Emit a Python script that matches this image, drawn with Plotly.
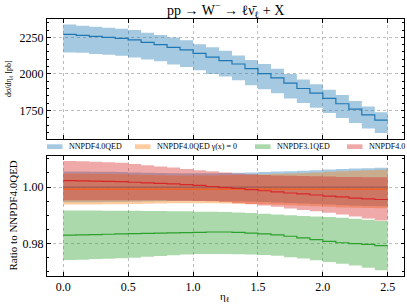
import plotly.graph_objects as go

W, H = 407, 305

ETA_EDGES = [0.0, 0.1, 0.2, 0.3, 0.4, 0.5, 0.6, 0.7, 0.8, 0.9, 1.0, 1.1, 1.2,
             1.3, 1.4, 1.5, 1.6, 1.7, 1.8, 1.9, 2.0, 2.1, 2.2, 2.3, 2.4, 2.5]

# top panel: dsigma/deta [pb] for NNPDF4.0QED
XS_CENTRAL = [2270, 2264, 2257, 2250, 2243, 2232, 2216, 2200, 2182, 2164, 2140, 2115, 2091,
              2068, 2036, 2002, 1973, 1937, 1901, 1869, 1833, 1797, 1761, 1721, 1685]
XS_UPPER = [2338, 2329, 2322, 2315, 2309, 2300, 2282, 2266, 2248, 2230, 2203, 2182, 2159,
            2126, 2095, 2068, 2036, 2000, 1962, 1930, 1892, 1856, 1815, 1779, 1739]
XS_LOWER = [2146, 2144, 2137, 2131, 2124, 2113, 2099, 2086, 2065, 2047, 2025, 2000, 1983,
            1957, 1923, 1896, 1869, 1833, 1802, 1770, 1734, 1700, 1666, 1628, 1597]

# bottom panel: ratios to NNPDF4.0QED
BLUE_C = [1.0] * 25
BLUE_U = [1.0055, 1.0055, 1.0054, 1.0054, 1.0053, 1.0052, 1.0051, 1.0050, 1.0049, 1.0049,
          1.0049, 1.0049, 1.0050, 1.0051, 1.0052, 1.0053, 1.0055, 1.0056, 1.0058, 1.0060,
          1.0062, 1.0064, 1.0066, 1.0067, 1.0068]
BLUE_L = [0.9946, 0.9946, 0.9946, 0.9947, 0.9947, 0.9948, 0.9949, 0.9950, 0.9951, 0.9951,
          0.9951, 0.9951, 0.9950, 0.9949, 0.9948, 0.9947, 0.9945, 0.9944, 0.9942, 0.9940,
          0.9938, 0.9936, 0.9934, 0.9933, 0.9932]

ORANGE_C = [0.9993] * 25
ORANGE_U = [1.0047, 1.0047, 1.0046, 1.0046, 1.0045, 1.0044, 1.0043, 1.0042, 1.0041, 1.0041,
            1.0041, 1.0041, 1.0042, 1.0043, 1.0044, 1.0045, 1.0047, 1.0048, 1.0050, 1.0052,
            1.0054, 1.0056, 1.0058, 1.0060, 1.0061]
ORANGE_L = [0.9938, 0.9938, 0.9938, 0.9939, 0.9939, 0.9940, 0.9941, 0.9942, 0.9943, 0.9943,
            0.9943, 0.9943, 0.9942, 0.9941, 0.9940, 0.9939, 0.9937, 0.9936, 0.9934, 0.9932,
            0.9930, 0.9928, 0.9927, 0.9926, 0.9925]

GREEN_C = [0.9830, 0.9831, 0.9832, 0.9833, 0.9834, 0.9835, 0.9836, 0.9837, 0.9838, 0.9839,
           0.9840, 0.9841, 0.9841, 0.9840, 0.9837, 0.9834, 0.9831, 0.9826, 0.9820, 0.9814,
           0.9808, 0.9803, 0.9800, 0.9797, 0.9793]
GREEN_U = [0.9917, 0.9917, 0.9917, 0.9916, 0.9916, 0.9916, 0.9915, 0.9915, 0.9914, 0.9914,
           0.9913, 0.9913, 0.9912, 0.9910, 0.9908, 0.9906, 0.9903, 0.9900, 0.9898, 0.9896,
           0.9894, 0.9891, 0.9888, 0.9884, 0.9880]
GREEN_L = [0.9742, 0.9743, 0.9745, 0.9746, 0.9748, 0.9750, 0.9753, 0.9756, 0.9759, 0.9761,
           0.9763, 0.9763, 0.9763, 0.9762, 0.9761, 0.9760, 0.9757, 0.9752, 0.9747, 0.9741,
           0.9735, 0.9729, 0.9722, 0.9714, 0.9706]

RED_C = [1.0023, 1.0022, 1.0021, 1.0020, 1.0019, 1.0017, 1.0015, 1.0013, 1.0011, 1.0009,
         1.0006, 1.0002, 0.9998, 0.9995, 0.9991, 0.9987, 0.9983, 0.9979, 0.9976, 0.9972,
         0.9968, 0.9965, 0.9961, 0.9958, 0.9956]
RED_U = [1.0092, 1.0091, 1.0090, 1.0088, 1.0086, 1.0082, 1.0077, 1.0073, 1.0069, 1.0064,
         1.0060, 1.0056, 1.0052, 1.0048, 1.0045, 1.0043, 1.0041, 1.0040, 1.0039, 1.0038,
         1.0037, 1.0036, 1.0036, 1.0035, 1.0035]
RED_L = [0.9953, 0.9953, 0.9953, 0.9953, 0.9953, 0.9953, 0.9953, 0.9953, 0.9952, 0.9952,
         0.9951, 0.9950, 0.9947, 0.9943, 0.9939, 0.9935, 0.9930, 0.9924, 0.9919, 0.9914,
         0.9909, 0.9903, 0.9896, 0.9889, 0.9882]

LABELS = ["NNPDF4.0QED", "NNPDF4.0QED γ(x) = 0", "NNPDF3.1QED", "NNPDF4.0"]
COLORS = ["#1f77b4", "#ff7f0e", "#2ca02c", "#d62728"]
FILLS = ["rgba(31,119,180,0.4)", "rgba(255,127,14,0.4)", "rgba(44,160,44,0.4)", "rgba(214,39,40,0.4)"]

FONT = "Liberation Serif"


def ext(v):
    return list(v) + [v[-1]]


fig = go.Figure()


def add_band(c, u, l, color, fill, xa, ya):
    fig.add_trace(go.Scatter(x=ETA_EDGES, y=ext(l), mode="lines", line=dict(width=0, shape="hv"),
                             showlegend=False, hoverinfo="skip", xaxis=xa, yaxis=ya))
    fig.add_trace(go.Scatter(x=ETA_EDGES, y=ext(u), mode="lines", line=dict(width=0, shape="hv"),
                             fill="tonexty", fillcolor=fill, showlegend=False, hoverinfo="skip",
                             xaxis=xa, yaxis=ya))
    fig.add_trace(go.Scatter(x=ETA_EDGES, y=ext(c), mode="lines", line=dict(width=1.2, shape="hv", color=color),
                             showlegend=False, hoverinfo="skip", xaxis=xa, yaxis=ya))


add_band(XS_CENTRAL, XS_UPPER, XS_LOWER, COLORS[0], FILLS[0], "x", "y")

for (c, u, l), col, fl in zip([(BLUE_C, BLUE_U, BLUE_L), (ORANGE_C, ORANGE_U, ORANGE_L),
                               (GREEN_C, GREEN_U, GREEN_L), (RED_C, RED_U, RED_L)], COLORS, FILLS):
    add_band(c, u, l, col, fl, "x2", "y2")


def px2x(p):
    return p / W


def px2y(p):
    return 1 - p / H


XDOM = [px2x(47), px2x(404)]
axis_common = dict(showline=True, linecolor="black", linewidth=1, mirror="allticks", ticks="inside",
                   ticklen=3.5, tickwidth=0.8, tickcolor="black", showgrid=True, gridcolor="#bdbdbd",
                   griddash="dot", gridwidth=0.7, zeroline=False, automargin=False,
                   tickfont=dict(family=FONT, size=12, color="black"))

fig.update_layout(
    width=W, height=H, margin=dict(l=0, r=0, t=0, b=0),
    paper_bgcolor="white", plot_bgcolor="white", showlegend=False,
    xaxis=dict(domain=XDOM, range=[-0.125, 2.625], tickvals=[0, 0.5, 1.0, 1.5, 2.0, 2.5],
               showticklabels=False, anchor="y", **axis_common),
    yaxis=dict(domain=[px2y(138.5), px2y(19)], range=[1560, 2375], tickvals=[1750, 2000, 2250],
               minor=dict(ticks="inside", ticklen=2, tickwidth=0.6, tickcolor="black", dtick=50,
                          tick0=0, showgrid=False), anchor="x", **axis_common),
    xaxis2=dict(domain=XDOM, range=[-0.125, 2.625], tickvals=[0, 0.5, 1.0, 1.5, 2.0, 2.5],
                ticktext=["0.0", "0.5", "1.0", "1.5", "2.0", "2.5"], anchor="y2", **axis_common),
    yaxis2=dict(domain=[px2y(275.5), px2y(156)], range=[0.9687, 1.0110], tickvals=[0.98, 1.00],
                ticktext=["0.98", "1.00"],
                minor=dict(ticks="inside", ticklen=2, tickwidth=0.6, tickcolor="black", dtick=0.005,
                           tick0=0, showgrid=False), anchor="x2", **axis_common),
)

ann = []
ann.append(dict(text="pp → W<sup>−</sup> → ℓν̄<sub>ℓ</sub> + X", x=px2x(225), y=px2y(10),
                xref="paper", yref="paper", showarrow=False, xanchor="center", yanchor="middle",
                font=dict(family=FONT, size=14, color="black")))
ann.append(dict(text="dσ/dη<sub>ℓ</sub> [pb]", x=px2x(9), y=px2y(79), xref="paper", yref="paper",
                showarrow=False, textangle=-90, xanchor="center", yanchor="middle",
                font=dict(family=FONT, size=8, color="black")))
ann.append(dict(text="Ratio to NNPDF4.0QED", x=px2x(12), y=px2y(215.5), xref="paper", yref="paper",
                showarrow=False, textangle=-90, xanchor="center", yanchor="middle",
                font=dict(family=FONT, size=11, color="black")))
ann.append(dict(text="η<sub>ℓ</sub>", x=px2x(225), y=px2y(297), xref="paper", yref="paper",
                showarrow=False, xanchor="center", yanchor="middle",
                font=dict(family=FONT, size=11, color="black")))

shapes = []
patch_x = [47, 135, 255, 347]
for px, lab, col, fl in zip(patch_x, LABELS, COLORS, FILLS):
    shapes.append(dict(type="rect", xref="paper", yref="paper", x0=px2x(px), x1=px2x(px + 15.5),
                       y0=px2y(149), y1=px2y(144.3), fillcolor=fl, line=dict(width=0)))
    ann.append(dict(text=lab, x=px2x(px + 20), y=px2y(146.8), xref="paper", yref="paper",
                    showarrow=False, xanchor="left", yanchor="middle",
                    font=dict(family=FONT, size=8, color="black")))

fig.update_layout(annotations=ann, shapes=shapes)
fig.write_html("out.html", config={"displayModeBar": False},
               post_script="document.body.style.margin='0';document.body.style.overflow='hidden';")
